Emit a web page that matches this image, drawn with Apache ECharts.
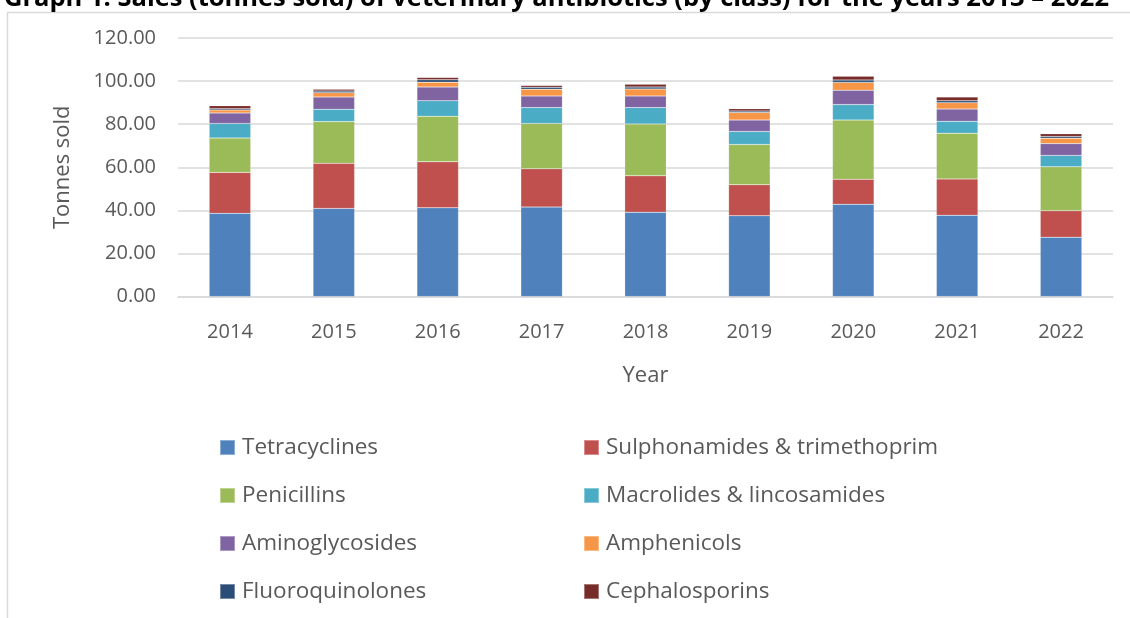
<!DOCTYPE html>
<html>
<head>
<meta charset="utf-8">
<script src="https://cdn.jsdelivr.net/npm/echarts@6/dist/echarts.min.js"></script>
<style>html,body{margin:0;padding:0;background:#fff}#c{width:1130px;height:618px}</style>
</head>
<body>
<div id="c"></div>
<script>
const years = ['2014','2015','2016','2017','2018','2019','2020','2021','2022'];
const tetracyclines = [38.6, 40.9, 41.2, 41.5, 39.1, 37.5, 42.8, 37.7, 27.5];
const sulphonamides = [19.0, 20.9, 21.3, 17.8, 16.9, 14.4, 11.6, 16.9, 12.3];
const penicillins = [16.0, 19.4, 21.2, 21.0, 24.1, 18.7, 27.5, 21.2, 20.4];
const macrolides = [6.7, 5.7, 7.2, 7.4, 7.6, 6.0, 7.2, 5.5, 5.3];
const aminoglycosides = [4.9, 5.7, 6.3, 5.4, 5.4, 5.3, 6.7, 5.7, 5.5];
const amphenicols = [1.4, 2.0, 2.3, 3.1, 3.2, 3.5, 3.6, 3.0, 2.5];
const fluoroquinolones = [0.6, 0.8, 1.1, 0.9, 0.9, 0.7, 1.1, 0.9, 0.8];
const cephalosporins = [1.4, 0.8, 1.1, 0.9, 1.3, 1.1, 1.8, 1.7, 1.3];
const yTicks = [0, 20, 40, 60, 80, 100, 120];

const seriesDefs = [
  ['Tetracyclines', tetracyclines, '#4f81bd'],
  ['Sulphonamides & trimethoprim', sulphonamides, '#c0504d'],
  ['Penicillins', penicillins, '#9bbb59'],
  ['Macrolides & lincosamides', macrolides, '#4bacc6'],
  ['Aminoglycosides', aminoglycosides, '#8064a2'],
  ['Amphenicols', amphenicols, '#f79646'],
  ['Fluoroquinolones', fluoroquinolones, '#2c4d75'],
  ['Cephalosporins', cephalosporins, '#772c2a']
];
const font = '"Open Sans", "Noto Sans", sans-serif';
const txt = '#595959';
const chart = echarts.init(document.getElementById('c'));
const legendCommon = {
  orient: 'vertical', itemWidth: 15, itemHeight: 15, itemGap: 25,
  icon: 'rect',
  textStyle: {fontFamily: font, fontSize: 22.5, color: txt, lineHeight: 22, padding: [0,0,0,2]},
  top: 431
};
chart.setOption({
  animation: false,
  title: {
    text: 'Graph 1: Sales (tonnes sold) of veterinary antibiotics (by class) for the years 2013 – 2022',
    left: -1, top: -19,
    textStyle: {fontFamily: font, fontWeight: 'bold', fontSize: 25.5, color: '#000'}
  },
  graphic: [{
    type: 'rect', z: -1, silent: true,
    shape: {x: 7.5, y: 12.5, width: 1140, height: 620},
    style: {fill: '#fff', stroke: '#d9d9d9', lineWidth: 1.5}
  }],
  legend: [
    Object.assign({}, legendCommon, {left: 214, data: ['Tetracyclines','Penicillins','Aminoglycosides','Fluoroquinolones']}),
    Object.assign({}, legendCommon, {left: 578, data: ['Sulphonamides & trimethoprim','Macrolides & lincosamides','Amphenicols','Cephalosporins']})
  ],
  grid: {left: 178, right: 17, top: 38, bottom: 321.5, containLabel: false},
  xAxis: {
    type: 'category', data: years,
    name: 'Year', nameLocation: 'middle', nameGap: 68,
    nameTextStyle: {fontFamily: font, fontSize: 22, color: txt},
    axisLine: {lineStyle: {color: '#d9d9d9', width: 1.5}},
    axisTick: {show: false},
    axisLabel: {fontFamily: font, fontSize: 20, color: txt, margin: 26}
  },
  yAxis: {
    type: 'value', min: 0, max: 120, interval: 20,
    name: 'Tonnes sold', nameLocation: 'middle', nameGap: 104, nameRotate: 90,
    nameTextStyle: {fontFamily: font, fontSize: 22, color: txt},
    axisLine: {show: false}, axisTick: {show: false},
    splitLine: {lineStyle: {color: '#d9d9d9', width: 1.5}},
    axisLabel: {fontFamily: font, fontSize: 20, color: txt, margin: 22,
      formatter: v => yTicks.includes(v) ? v.toFixed(2) : ''}
  },
  series: seriesDefs.map(([name, data, color]) => ({
    name, type: 'bar', stack: 'total', data, barWidth: '40%',
    itemStyle: {color, borderColor: 'rgba(255,255,255,0.35)', borderWidth: 0.5}
  }))
});
</script>
</body>
</html>
